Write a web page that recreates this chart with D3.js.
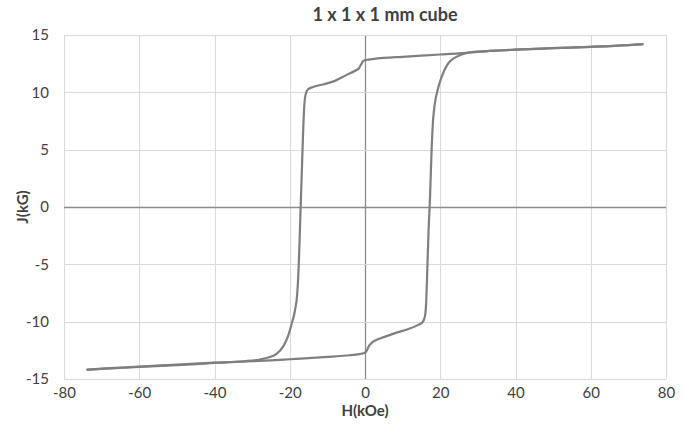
<!DOCTYPE html>
<html>
<head>
<meta charset="utf-8">
<script src="https://cdn.jsdelivr.net/npm/d3@7"></script>
<style>
	body { margin: 0; background: #fff; }
	text { font-family: Lato, "Open Sans", sans-serif; fill: #404040; }
</style>
</head>
<body>
<div id="chart"></div>
<script>
// descending branch (field going from +74 to -74 kOe)
var downH = [74, 70, 60, 50, 40, 30, 25, 20, 10, 5, 2, 0.3, -0.5, -1, -1.6, -2.5, -5, -8, -11, -14, -15.2, -15.8, -16.2, -16.5, -16.9, -17.2, -17.6, -18, -18.6, -19.5, -20.5, -21.8, -23.5, -25.5, -28, -32, -40, -50, -60, -70, -74];
var downJ = [14.2, 14.12, 13.97, 13.85, 13.72, 13.55, 13.4, 13.3, 13.1, 13.0, 12.9, 12.82, 12.72, 12.45, 12.1, 11.9, 11.5, 11.0, 10.7, 10.45, 10.25, 9.8, 8.5, 6, 2, -1, -5, -7.5, -9, -10.2, -11.3, -12.2, -12.8, -13.1, -13.3, -13.45, -13.58, -13.75, -13.92, -14.1, -14.18];
// ascending branch (field going from -74 to +74 kOe)
var upH = [-74, -70, -60, -50, -40, -30, -25, -20, -15, -10, -5, -2, 0, 0.5, 1, 1.6, 3, 5, 8, 11, 14, 15.3, 16, 16.3, 16.6, 16.9, 17.3, 17.7, 18.1, 18.6, 19.3, 20.2, 21.2, 22.3, 23.8, 25.5, 28, 32, 40, 50, 60, 70, 74];
var upJ = [-14.2, -14.12, -13.95, -13.8, -13.6, -13.45, -13.38, -13.28, -13.18, -13.07, -12.95, -12.85, -12.7, -12.5, -12.15, -11.9, -11.6, -11.35, -11.0, -10.7, -10.3, -10.05, -9.4, -8, -5, -2, 1, 5, 7.6, 9.1, 10.2, 11.2, 12.0, 12.6, 13.0, 13.28, 13.48, 13.58, 13.72, 13.85, 13.97, 14.12, 14.2];

var xTicks = [-80, -60, -40, -20, 0, 20, 40, 60, 80];
var yTicks = [-15, -10, -5, 0, 5, 10, 15];

var W = 685, H = 432;
var m = {top: 35, right: 19, bottom: 53, left: 64};

var svg = d3.select("#chart").append("svg").attr("width", W).attr("height", H);

var x = d3.scaleLinear().domain([-80, 80]).range([m.left, W - m.right]);
var y = d3.scaleLinear().domain([-15, 15]).range([H - m.bottom, m.top]);

// grid
var grid = svg.append("g");
grid.selectAll(".vx").data(xTicks).enter().append("line")
	.attr("x1", function (d) { return Math.round(x(d)) + 0.5; })
	.attr("x2", function (d) { return Math.round(x(d)) + 0.5; })
	.attr("y1", y(15)).attr("y2", y(-15))
	.attr("stroke", function (d) { return d === 0 ? "#8c8c8c" : "#d9d9d9"; })
	.attr("stroke-width", function (d) { return d === 0 ? 1.3 : 1; });
grid.selectAll(".hy").data(yTicks).enter().append("line")
	.attr("y1", function (d) { return Math.round(y(d)) + 0.5; })
	.attr("y2", function (d) { return Math.round(y(d)) + 0.5; })
	.attr("x1", x(-80)).attr("x2", x(80))
	.attr("stroke", function (d) { return d === 0 ? "#8c8c8c" : "#d9d9d9"; })
	.attr("stroke-width", function (d) { return d === 0 ? 1.3 : 1; });

// axes (labels only), plain hyphen for negatives like the original
var fmt = function (d) { return String(d); };
var xAxis = svg.append("g").attr("transform", "translate(0," + (H - m.bottom) + ")")
	.call(d3.axisBottom(x).tickValues(xTicks).tickFormat(fmt).tickSize(0).tickPadding(8));
var yAxis = svg.append("g").attr("transform", "translate(" + m.left + ",0)")
	.call(d3.axisLeft(y).tickValues(yTicks).tickFormat(fmt).tickSize(0).tickPadding(15));
[xAxis, yAxis].forEach(function (a) {
	a.select(".domain").remove();
	a.selectAll("text").style("font-size", "15px").attr("fill", "#404040")
		.style("font-family", "Lato, 'Open Sans', sans-serif");
});

// loop
var line = d3.line()
	.x(function (d) { return x(d[0]); })
	.y(function (d) { return y(d[1]); })
	.curve(d3.curveMonotoneX);

function pts(hs, js) {
	return d3.zip(hs, js).sort(function (a, b) { return a[0] - b[0]; });
}

svg.append("path").datum(pts(downH, downJ)).attr("d", line)
	.attr("fill", "none").attr("stroke", "#7f7f7f").attr("stroke-width", 2.2);
svg.append("path").datum(pts(upH, upJ)).attr("d", line)
	.attr("fill", "none").attr("stroke", "#7f7f7f").attr("stroke-width", 2.2);

// titles
svg.append("text").attr("x", 385).attr("y", 21).attr("text-anchor", "middle")
	.style("font-size", "18px").style("font-weight", "bold").text("1 x 1 x 1 mm cube");
svg.append("text").attr("x", x(0)).attr("y", 416).attr("text-anchor", "middle")
	.style("font-size", "15px").style("font-weight", "bold").text("H(kOe)");
svg.append("text").attr("transform", "translate(28," + y(0) + ") rotate(-90)")
	.attr("text-anchor", "middle")
	.style("font-size", "15px").style("font-weight", "bold").text("J(kG)");
</script>
</body>
</html>
